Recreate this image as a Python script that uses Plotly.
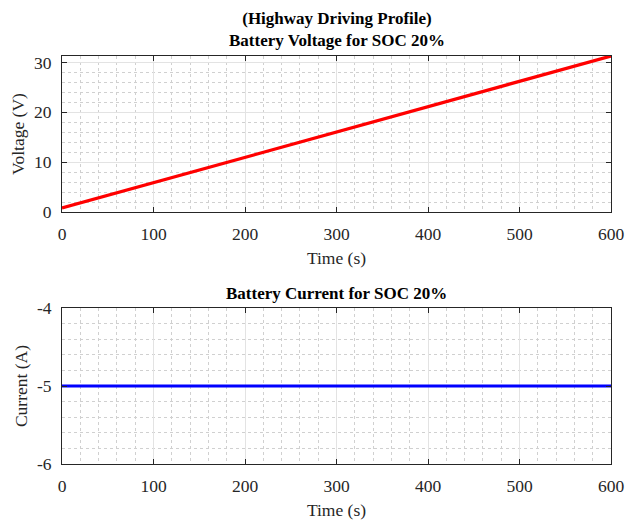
import plotly.graph_objects as go

# Data
time_s = [0, 100, 200, 300, 400, 500, 600]
voltage_v = [0.8, 5.9, 11.0, 16.0, 21.1, 26.2, 31.3]
current_a = [-5, -5, -5, -5, -5, -5, -5]

x_ticks = [0, 100, 200, 300, 400, 500, 600]
v_ticks = [0, 10, 20, 30]
i_ticks = [-6, -5, -4]
i_ticklabels = ["-6", "-5", "-4"]

title_top = "(Highway Driving Profile)<br>Battery Voltage for SOC 20%"
title_bottom = "Battery Current for SOC 20%"

FONT = "Liberation Serif"
AXC = "#262626"
W, H = 628, 523
ML, MR, MT, MB = 62, 17, 56, 59
PH = H - MT - MB

def frac(ypix):
    return (H - MB - ypix) / PH

fig = go.Figure()
fig.add_trace(go.Scatter(x=time_s, y=voltage_v, mode="lines",
                         line=dict(color="#ff0000", width=3.2), xaxis="x", yaxis="y", showlegend=False))
fig.add_trace(go.Scatter(x=time_s, y=current_a, mode="lines",
                         line=dict(color="#0000ff", width=3.2), xaxis="x2", yaxis="y2", showlegend=False))

common_x = dict(range=[0, 600], tickvals=x_ticks, ticks="inside", ticklen=5, tickcolor=AXC,
                showline=True, linecolor=AXC, linewidth=1, mirror="ticks", automargin=False,
                showgrid=True, gridcolor="#e3e3e3", gridwidth=1, zeroline=False,
                ticklabelstandoff=6,
                minor=dict(dtick=20, showgrid=True, gridcolor="#d0d0d0", griddash="dot", gridwidth=1),
                tickfont=dict(family=FONT, size=17.5, color=AXC),
                title=dict(text="Time (s)", font=dict(family=FONT, size=17.5, color=AXC), standoff=8))
common_y = dict(ticks="inside", ticklen=5, tickcolor=AXC,
                showline=True, linecolor=AXC, linewidth=1, mirror="ticks", automargin=False,
                showgrid=True, gridcolor="#e3e3e3", gridwidth=1, zeroline=False,
                ticklabelstandoff=6,
                tickfont=dict(family=FONT, size=17.5, color=AXC))

fig.update_layout(
    width=W, height=H,
    margin=dict(l=ML, r=MR, t=MT, b=MB),
    plot_bgcolor="white", paper_bgcolor="white",
    xaxis=dict(**common_x, anchor="y", domain=[0, 1]),
    yaxis=dict(**common_y, anchor="x", domain=[frac(212), 1.0], range=[0, 31.3], tickvals=v_ticks,
               minor=dict(dtick=2, showgrid=True, gridcolor="#d0d0d0", griddash="dot", gridwidth=1),
               title=dict(text="Voltage (V)", font=dict(family=FONT, size=17.5, color=AXC), standoff=4)),
    xaxis2=dict(**common_x, anchor="y2", domain=[0, 1]),
    yaxis2=dict(**common_y, anchor="x2", domain=[0, frac(308)], range=[-6, -4], tickvals=i_ticks,
                ticktext=i_ticklabels,
                minor=dict(dtick=0.2, showgrid=True, gridcolor="#d0d0d0", griddash="dot", gridwidth=1),
                title=dict(text="Current (A)", font=dict(family=FONT, size=17.5, color=AXC), standoff=4)),
    annotations=[
        dict(text="<b>" + title_top + "</b>", xref="paper", yref="paper", x=0.5, y=1.0,
             yshift=4, xanchor="center", yanchor="bottom", showarrow=False,
             font=dict(family=FONT, size=17, color="black")),
        dict(text="<b>" + title_bottom + "</b>", xref="paper", yref="paper", x=0.5, y=frac(308),
             yshift=3, xanchor="center", yanchor="bottom", showarrow=False,
             font=dict(family=FONT, size=17, color="black")),
    ],
)

fig.write_html("out.html")
